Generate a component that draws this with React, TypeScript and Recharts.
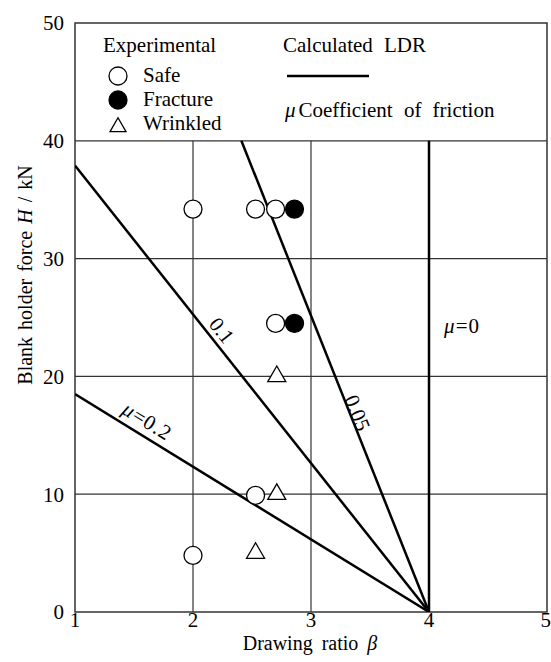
import React from 'react';
import {
  ComposedChart,
  Line,
  Scatter,
  XAxis,
  YAxis,
  ReferenceLine,
  ReferenceArea,
  ReferenceDot,
} from 'recharts';

const FONT = '"Liberation Serif", "Times New Roman", serif';

const xTicks = [1, 2, 3, 4, 5];
const yTicks = [0, 10, 20, 30, 40, 50];
const gridX = [2, 3];
const gridY = [10, 20, 30, 40];

// experimental points (drawing ratio, blank holder force)
const safe = [
  { x: 2.0, y: 34.2 },
  { x: 2.53, y: 34.2 },
  { x: 2.7, y: 34.2 },
  { x: 2.7, y: 24.5 },
  { x: 2.53, y: 9.9 },
  { x: 2.0, y: 4.8 },
];
const fracture = [
  { x: 2.86, y: 34.2 },
  { x: 2.86, y: 24.5 },
];
const wrinkled = [
  { x: 2.71, y: 20 },
  { x: 2.71, y: 10 },
  { x: 2.53, y: 5 },
];

// calculated LDR lines
const ldrMu0 = [
  { x: 4, y: 0 },
  { x: 4, y: 40 },
];
const ldrMu005 = [
  { x: 2.41, y: 40 },
  { x: 4, y: 0 },
];
const ldrMu01 = [
  { x: 1, y: 37.9 },
  { x: 4, y: 0 },
];
const ldrMu02 = [
  { x: 1, y: 18.5 },
  { x: 4, y: 0 },
];

const lineLabels = [
  { mu: false, text: '0.1', x: 2.243, y: 23.9, angle: 51.7 },
  { mu: false, text: '0.05', x: 3.392, y: 16.9, angle: 68.3 },
  { mu: true, text: '=0.2', x: 1.613, y: 16.2, angle: 31.6 },
  { mu: true, text: '=0', x: 4.28, y: 24.3, angle: 0 },
];

const txt = { fontFamily: FONT, fill: '#000' };

const openCircle = (p: any) => (
  <circle cx={p.cx} cy={p.cy} r={9} fill="#fff" stroke="#000" strokeWidth={1.3} />
);
const filledCircle = (p: any) => (
  <circle cx={p.cx} cy={p.cy} r={9} fill="#000" stroke="#000" strokeWidth={1.3} />
);
const triangle = (p: any, s = 18) => {
  const h = (s * Math.sqrt(3)) / 2;
  const pts = `${p.cx},${p.cy - (2 * h) / 3} ${p.cx - s / 2},${p.cy + h / 3} ${p.cx + s / 2},${p.cy + h / 3}`;
  return <polygon points={pts} fill="#fff" stroke="#000" strokeWidth={1.3} />;
};

function Legend() {
  return (
    <svg
      width={551}
      height={662}
      style={{ position: 'absolute', left: 0, top: 0, pointerEvents: 'none', fontFamily: FONT }}
    >
      <text x={103} y={52} fontSize={21} style={txt}>Experimental</text>
      {openCircle({ cx: 118, cy: 76 })}
      <text x={143} y={82} fontSize={21} style={txt}>Safe</text>
      {filledCircle({ cx: 118, cy: 100 })}
      <text x={143} y={106} fontSize={21} style={txt}>Fracture</text>
      {triangle({ cx: 118, cy: 127 }, 16)}
      <text x={143} y={130} fontSize={21} style={txt}>Wrinkled</text>

      <text x={283} y={52} fontSize={21} style={{ ...txt, wordSpacing: 6 }}>Calculated LDR</text>
      <line x1={287} y1={76} x2={369} y2={76} stroke="#000" strokeWidth={2.5} />
      <text x={285} y={117} fontSize={21} style={{ ...txt, wordSpacing: 6 }}>
        <tspan fontStyle="italic">μ</tspan>
        <tspan dx={3}>Coefficient of friction</tspan>
      </text>

      <text
        transform="translate(32, 275) rotate(-90)"
        textAnchor="middle"
        fontSize={20}
        style={{ ...txt, wordSpacing: 2 }}
      >
        Blank holder force <tspan fontStyle="italic">H</tspan> / kN
      </text>
      <text x={310} y={650} textAnchor="middle" fontSize={20} style={{ ...txt, wordSpacing: 4 }}>
        Drawing ratio <tspan fontStyle="italic">β</tspan>
      </text>
    </svg>
  );
}

export default function App() {
  return (
    <div
      style={{
        position: 'absolute',
        left: 0,
        top: 0,
        width: 551,
        height: 662,
        background: '#fff',
        fontFamily: FONT,
      }}
    >
      <ComposedChart width={551} height={662} margin={{ top: 23, right: 4, bottom: 0, left: 0 }}>
        <XAxis
          type="number"
          dataKey="x"
          domain={[1, 5]}
          ticks={xTicks}
          allowDataOverflow
          axisLine={false}
          tickLine={false}
          tickSize={0}
          tickMargin={0}
          height={50}
          tick={{ fill: '#000', fontSize: 21, fontFamily: FONT }}
        />
        <YAxis
          type="number"
          dataKey="y"
          domain={[0, 50]}
          ticks={yTicks}
          allowDataOverflow
          axisLine={false}
          tickLine={false}
          tickSize={0}
          tickMargin={11}
          width={75}
          tick={{ fill: '#000', fontSize: 21, fontFamily: FONT }}
        />

        {gridY.map((v) => (
          <ReferenceLine key={`gy${v}`} y={v} stroke="#333" strokeWidth={1.2} />
        ))}
        {gridX.map((v) => (
          <ReferenceLine
            key={`gx${v}`}
            segment={[
              { x: v, y: 0 },
              { x: v, y: 40 },
            ]}
            stroke="#333"
            strokeWidth={1.2}
          />
        ))}
        <ReferenceArea x1={1} x2={5} y1={0} y2={50} fill="none" stroke="#333" strokeWidth={1.5} />

        <Line data={ldrMu0} dataKey="y" type="linear" stroke="#000" strokeWidth={2.5} dot={false} isAnimationActive={false} />
        <Line data={ldrMu005} dataKey="y" type="linear" stroke="#000" strokeWidth={2.5} dot={false} isAnimationActive={false} />
        <Line data={ldrMu01} dataKey="y" type="linear" stroke="#000" strokeWidth={2.5} dot={false} isAnimationActive={false} />
        <Line data={ldrMu02} dataKey="y" type="linear" stroke="#000" strokeWidth={2.5} dot={false} isAnimationActive={false} />

        <Scatter data={safe} shape={openCircle} isAnimationActive={false} />
        <Scatter data={fracture} shape={filledCircle} isAnimationActive={false} />
        <Scatter data={wrinkled} shape={(p: any) => triangle(p)} isAnimationActive={false} />

        {lineLabels.map((l) => (
          <ReferenceDot
            key={l.text}
            x={l.x}
            y={l.y}
            r={0}
            shape={(p: any) => (
              <text
                transform={`translate(${p.cx}, ${p.cy}) rotate(${l.angle})`}
                textAnchor="middle"
                dominantBaseline="central"
                fontSize={21}
                style={{ ...txt, letterSpacing: l.mu ? 1 : 0 }}
              >
                {l.mu && <tspan fontStyle="italic">μ</tspan>}
                {l.text}
              </text>
            )}
          />
        ))}
      </ComposedChart>
      <Legend />
    </div>
  );
}
